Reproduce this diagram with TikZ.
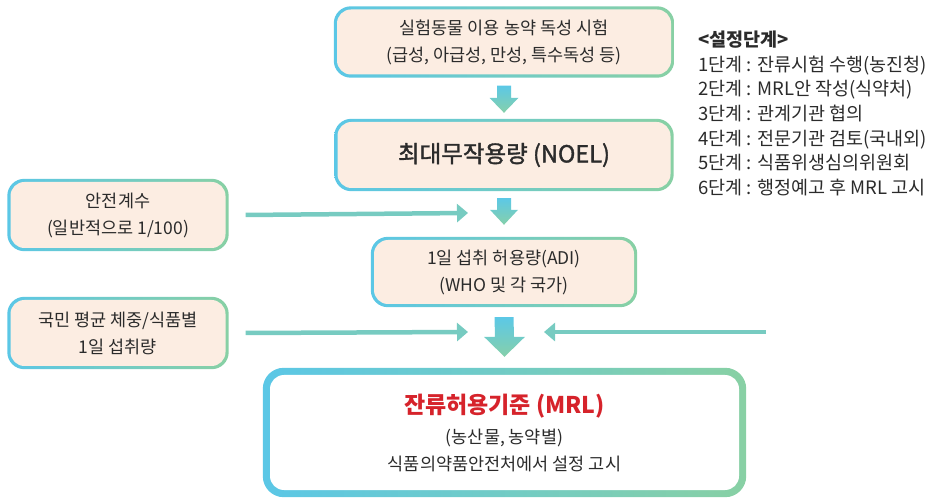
\documentclass[tikz,border=0pt]{standalone}
\usepackage{fontspec}
\setmainfont{Noto Sans CJK KR}
\newfontfamily\semibold{Noto Sans CJK KR}[FakeBold=1.5]
\usetikzlibrary{arrows.meta,calc,backgrounds}

\definecolor{boxfill}{HTML}{FCEDE2}
\definecolor{bblue}{HTML}{5BC7E6}
\definecolor{bgreen}{HTML}{88D0A4}
\definecolor{ablue}{HTML}{5CC8E6}
\definecolor{agreen}{HTML}{86D0AA}
\definecolor{lineteal}{HTML}{77CBC1}
\definecolor{txtgray}{HTML}{2B2B2B}
\definecolor{mrlred}{HTML}{D6232B}

% block arrow: top point, tip, shaft half width, head half width, head length
\newcommand*{\bigarrow}[5]{%
	\path[top color=ablue,bottom color=agreen]
		($(#1)+(-#3,0)$) -- ($(#1)+(#3,0)$) -- ($(#2)+(#3,#5)$) -- ($(#2)+(#4,#5)$)
		-- (#2) -- ($(#2)+(-#4,#5)$) -- ($(#2)+(-#3,#5)$) -- cycle;}

\begin{document}
\begin{tikzpicture}
[
	x=1pt, y=1pt,
	every node/.style={text=txtgray,font=\fontsize{17.5}{27}\selectfont},
	box/.style={fill=boxfill,rounded corners=14pt,align=center,inner sep=0pt},
	hline/.style={line width=4.5pt,lineteal,-{Triangle[length=11pt,width=18pt]}}
]
	\useasboundingbox (0,0) rectangle (932,501);

	% boxes
	\node[box,minimum width=334pt,minimum height=65pt] (test) at (504,459)
		{실험동물 이용 농약 독성 시험\\(급성, 아급성, 만성, 특수독성 등)};
	\node[box,minimum width=333pt,minimum height=66pt] (noel) at (504,346)
		{\fontsize{23.5}{27}\semibold 최대무작용량 (NOEL)};
	\node[box,minimum width=260pt,minimum height=64pt] (adi) at (504,229)
		{1일 섭취 허용량(ADI)\\(WHO 및 각 국가)};
	\node[box,minimum width=215pt,minimum height=66pt] (sf) at (118,286)
		{안전계수\\(일반적으로 1/100)};
	\node[box,minimum width=215pt,minimum height=66pt] (intake) at (118,168)
		{국민 평균 체중/식품별\\1일 섭취량};
	\node[box,fill=white,minimum width=469pt,minimum height=115pt] (mrl) at (504.5,68.5)
		{{\fontsize{23}{26}\bfseries\color{mrlred}잔류허용기준 (MRL)}\\[3pt]
		(농산물, 농약별)\\식품의약품안전처에서 설정 고시};

	% steps
	\node[anchor=west,align=left,inner sep=0pt,font=\fontsize{18.5}{24.6}\selectfont] (steps) at (698,387.5)
		{\textbf{<설정단계>}\\
		1단계 : 잔류시험 수행(농진청)\\
		2단계 : MRL안 작성(식약처)\\
		3단계 : 관계기관 협의\\
		4단계 : 전문기관 검토(국내외)\\
		5단계 : 식품위생심의위원회\\
		6단계 : 행정예고 후 MRL 고시};

	% gradient frames
	\begin{scope}[on background layer]
		\foreach \n in {test,noel,adi,sf,intake}
			\path[left color=bblue,right color=bgreen,rounded corners=17pt]
				([shift={(-3,-3)}]\n.south west) rectangle ([shift={(3,3)}]\n.north east);
		\path[left color=bblue,right color=bgreen,rounded corners=21pt]
			([shift={(-7,-7)}]mrl.south west) rectangle ([shift={(7,7)}]mrl.north east);
	\end{scope}

	% down arrows
	\coordinate (a1top) at ([yshift=-11pt]test.south);
	\coordinate (a1tip) at ([yshift=9pt]noel.north);
	\coordinate (a2top) at ([yshift=-10pt]noel.south);
	\coordinate (a2tip) at ([yshift=15pt]adi.north);
	\coordinate (a3top) at ([yshift=-13pt]adi.south);
	\coordinate (a3tip) at ([yshift=18pt]mrl.north);
	\bigarrow{a1top}{a1tip}{7}{14.5}{15}
	\bigarrow{a2top}{a2tip}{7}{14}{15}
	\bigarrow{a3top}{a3tip}{9.5}{20.5}{20}

	% side arrows
	\coordinate (sftip) at (468,288);
	\coordinate (intip) at (468,169);
	\coordinate (rtail) at (766,169);
	\coordinate (rtip) at (544,169);
	\draw[hline] ([xshift=20pt]sf.east) -- (sftip);
	\draw[hline] ([xshift=20pt]intake.east) -- (intip);
	\draw[hline] (rtail) -- (rtip);

\end{tikzpicture}
\end{document}
